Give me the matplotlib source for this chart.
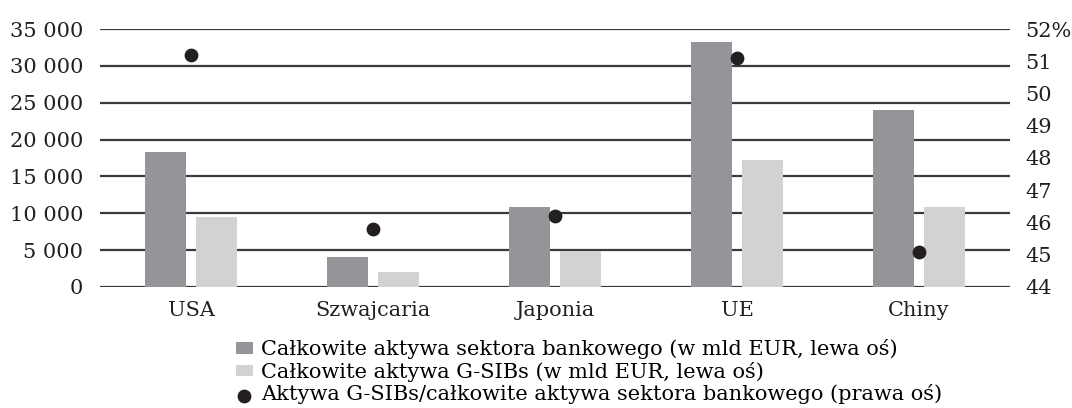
import matplotlib.pyplot as plt
import matplotlib.ticker as mticker
import numpy as np

plt.rcParams['font.family'] = ['DejaVu Serif']

countries = ['USA', 'Szwajcaria', 'Japonia', 'UE', 'Chiny']
total_assets = [18300, 4100, 10900, 33300, 24000]   # mld EUR
gsib_assets = [9500, 2000, 4900, 17200, 10900]      # mld EUR
gsib_share = [51.2, 45.8, 46.2, 51.1, 45.1]         # %

label_total = 'Całkowite aktywa sektora bankowego (w mld EUR, lewa oś)'
label_gsib = 'Całkowite aktywa G-SIBs (w mld EUR, lewa oś)'
label_share = 'Aktywa G-SIBs/całkowite aktywa sektora bankowego (prawa oś)'

dark = '#939598'
light = '#d1d2d4'
ink = '#231f20'
fs = 15

fig = plt.figure(figsize=(10.72, 4.08), dpi=100)
ax1 = fig.add_axes([0.0933, 0.2966, 0.8489, 0.6323])
ax2 = ax1.twinx()

x = np.arange(len(countries))
w = 0.225
off = 0.14

ax1.set_axisbelow(True)
ax1.grid(axis='y', color='#3a3a3a', linewidth=1.6)
b1 = ax1.bar(x - off, total_assets, w, color=dark, label=label_total, zorder=2)
b2 = ax1.bar(x + off, gsib_assets, w, color=light, label=label_gsib, zorder=2)

ax1.set_ylim(0, 35000)
ax1.set_yticks(range(0, 35001, 5000))
ax1.yaxis.set_major_formatter(mticker.FuncFormatter(
    lambda v, p: f'{int(v):,}'.replace(',', ' ')))
ax1.set_xlim(-0.5, 4.5)
ax1.set_xticks(x)
ax1.set_xticklabels(countries)

ax2.set_ylim(44, 52)
ax2.set_yticks(range(44, 53))
ax2.set_yticklabels([str(v) if v < 52 else f'{v}%' for v in range(44, 53)])
sc = ax2.scatter(x, gsib_share, s=80, color=ink, zorder=5, label=label_share)

for a in (ax1, ax2):
    for s in a.spines.values():
        s.set_visible(False)
    a.tick_params(length=0, labelsize=fs, colors=ink)
ax1.tick_params(axis='y', pad=12)
ax1.tick_params(axis='x', pad=10)
ax2.tick_params(axis='y', pad=11)

fig.legend([b1, b2, sc], [label_total, label_gsib, label_share],
           loc='upper left', bbox_to_anchor=(0.22, 0.168), frameon=False,
           fontsize=fs, handlelength=0.8, handleheight=0.5, handletextpad=0.4,
           labelspacing=0.12, borderpad=0, borderaxespad=0, markerscale=1.0)

fig.savefig('out.png', dpi=100)
